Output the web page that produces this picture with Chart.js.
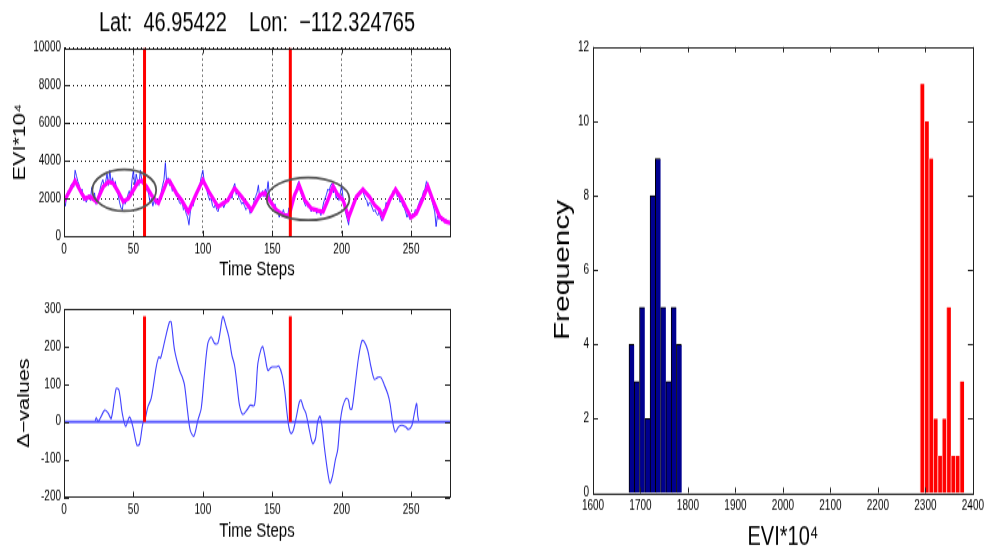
<!DOCTYPE html>
<html>
<head>
<meta charset="utf-8">
<script src="https://cdn.jsdelivr.net/npm/chart.js@4.4.1/dist/chart.umd.min.js"></script>
<style>
  body { margin: 0; background: #fff; width: 988px; height: 553px; position: relative; overflow: hidden; }
  canvas { position: absolute; }
</style>
</head>
<body>
<!-- canvases are rendered short and stretched vertically by CSS -->
<canvas id="eviChart" width="514" height="215" style="left:0;top:0;width:514px;height:290px"></canvas>
<canvas id="deltaChart" width="514" height="195" style="left:0;top:290px;width:514px;height:263px"></canvas>
<canvas id="histChart" width="468" height="410" style="left:520px;top:0;width:468px;height:553px"></canvas>
<script>
// raw EVI*10^4 per time step (t = 0..278)
const evi = [
  1800, 1600, 2200, 2400, 2300, 2700, 2800, 2600, 3500, 3200,
  2900, 2700, 2300, 2500, 1900, 2100, 1800, 2000, 2200, 1900,
  2600, 2000, 2300, 1700, 1900, 2200, 2500, 2800, 3000, 2600,
  2900, 3300, 2700, 3500, 2800, 3100, 2600, 2900, 2400, 2200,
  1800, 1500, 1400, 2000, 1700, 1900, 2200, 2400, 2100, 3000,
  3500, 2600, 3300, 2900, 2700, 3500, 3000, 2800, 3200, 2400,
  2600, 2200, 1800, 2000, 1600, 1900, 1700, 2000, 1800, 1900,
  2300, 2700, 3000, 3900, 2800, 3100, 2700, 2900, 2400, 2600,
  2300, 2100, 2200, 1800, 1700, 1900, 1400, 1500, 1200, 1000,
  600, 1300, 1800, 1600, 2000, 2200, 2400, 2600, 2800, 3200,
  3500, 2900, 2700, 2400, 2100, 1900, 2000, 1600, 1500, 1700,
  1400, 1300, 1700, 1600, 1800, 1500, 1700, 1900, 1800, 2100,
  2300, 2000, 2600, 2800, 2200, 2400, 2000, 1900, 1700, 1800,
  1600, 1400, 1500, 1700, 1200, 1300, 1500, 1900, 2100, 2300,
  2700, 2000, 2200, 2400, 2100, 2500, 2300, 2900, 2100, 1900,
  1800, 1500, 1700, 1300, 1400, 1000, 1300, 1200, 1400, 1100,
  1200, 1000, 1500, 1300, 1600, 1900, 2100, 2400, 2700, 2900,
  2500, 2200, 2000, 1800, 1600, 1700, 1500, 1600, 1300, 1500,
  1300, 1500, 1200, 1400, 1300, 1100, 1400, 1800, 2000, 2200,
  2500, 2400, 2700, 2800, 2300, 2600, 2000, 2200, 1900, 2300,
  2700, 2000, 1500, 1200, 900, 600, 1300, 1500, 1700, 1900,
  1900, 2000, 2200, 2400, 2300, 2500, 2200, 2000, 1900, 1600,
  1800, 1700, 1500, 1300, 1400, 1200, 1100, 1300, 1000, 800,
  1400, 1300, 1800, 1600, 1900, 2100, 2000, 2400, 2300, 2500,
  2100, 2200, 1800, 1900, 1600, 1500, 1300, 1000, 1200, 900,
  1000, 1200, 1100, 1400, 1300, 1600, 1800, 2000, 2100, 2400,
  2500, 2900, 2700, 2400, 2100, 1900, 1600, 1300, 500, 1100,
  900, 1100, 800, 1000, 700, 900, 800, 700, 600
];

// smoothed curve (time step, value)
const smoothT = [0, 8, 12.7, 15, 18.7, 23.5, 28.3, 32, 35.5, 39,
  42.7, 46.3, 50, 53.5, 56, 59.5, 63, 66.7, 68, 74,
  76, 81, 84.7, 89.5, 95.4, 100, 105, 111, 114.6, 118,
  122, 123, 128, 131.4, 135, 141, 144.6, 148, 153, 158,
  162, 166, 169.3, 173.4, 178, 183, 186.6, 190, 193.8, 197.3,
  201, 205, 210.6, 215.3, 220, 223.7, 227.3, 229.7, 234.5, 238.8,
  243, 246.5, 250, 253.7, 258.5, 262, 265.7, 270.5, 275.3, 278];
const smoothV = [1850, 2940, 2270, 2000, 2090, 1830, 2620, 2890, 2800, 2360,
  1830, 2000, 2450, 2890, 2940, 2620, 2180, 1830, 1760, 2890,
  2940, 2270, 1910, 1290, 2270, 2980, 2270, 1560, 1740, 1910,
  2450, 2530, 2090, 1740, 1380, 2180, 2300, 1910, 1380, 1120,
  1060, 2180, 2710, 1910, 1470, 1350, 1300, 1910, 2660, 2180,
  1910, 1000, 2090, 2480, 2090, 1650, 1380, 1030, 1910, 2480,
  2000, 1470, 990, 1200, 2000, 2660, 1910, 1030, 760, 700];

// detected change points
const breakT = [58, 163];
const deltaBreakTop = 281;

// delta statistic (time step, value)
const deltaT = [22.5, 23.3, 24.5, 26, 29.3, 31.7, 34, 37.6, 39.6, 42,
  44.4, 47.2, 49.6, 52.5, 54.4, 56.8, 58.5, 60.4, 62.8, 66.4,
  68.3, 69.5, 72.4, 76, 77.2, 79.6, 83.2, 85.1, 86.8, 89.2,
  90.9, 93.5, 96.4, 98.8, 101.2, 103.6, 106, 108.4, 110.8, 112.5,
  114.4, 116.8, 118.7, 120.9, 122.8, 124.5, 126.4, 128.8, 132.4, 134,
  137.2, 139.6, 142, 143.2, 144.8, 146.8, 148.4, 149.9, 152.8, 154.7,
  157.1, 159.2, 160.4, 161.9, 163.5, 165.2, 167.6, 169.5, 170.7, 172.4,
  174.3, 176.7, 179.1, 181.1, 182.7, 184.4, 185.9, 187.5, 189.9, 191.6,
  193.5, 195.4, 197.1, 198.8, 200.7, 203.1, 204.8, 206, 207.4, 209.8,
  212.2, 214.6, 216.3, 218.7, 221.1, 223.5, 225.9, 228.3, 230.7, 233.1,
  234.8, 236.7, 238.6, 241, 243.4, 245.8, 248.2, 250.6, 252.3, 254,
  254.7, 255.4];
const deltaV = [3, 11, 1, 9, 31, 24, 9, 89, 84, 22,
  -12, 13, -13, -62, -59, -4, 9, 40, 62, 146,
  173, 169, 213, 266, 266, 191, 137, 120, 98, 22,
  -22, -38, 4, 35, 129, 209, 226, 209, 209, 240,
  280, 253, 226, 177, 151, 102, 44, 20, 35, 44,
  44, 155, 195, 200, 173, 137, 142, 146, 146, 148,
  124, 75, 31, -13, -31, -22, 18, 53, 58, 38,
  22, -22, -58, -45, 0, 15, -13, -67, -133, -163,
  -142, -102, -75, -4, 40, 62, 58, 35, 35, 102,
  173, 216, 213, 191, 146, 113, 118, 118, 98, 75,
  49, 0, -27, -13, -9, -13, -20, -9, 22, 49,
  18, 3];

// histogram bins (centers) and counts
const lowBins = [1681.3, 1692.4, 1703.5, 1714.6, 1725.7, 1736.8, 1747.9, 1759.0, 1770.1, 1781.2];
const lowCounts = [4, 3, 5, 2, 8, 9, 5, 3, 5, 4];
const highBins = [2293.2, 2302.5, 2311.8, 2321.1, 2330.4, 2339.7, 2349.0, 2358.3, 2367.6, 2376.9];
const highCounts = [11, 10, 9, 2, 1, 2, 5, 1, 1, 3];

// regions circled on the EVI plot
const circled = [
  { t: 43.4, v: 2435, dt: 23, dv: 1105 },
  { t: 175.8, v: 1980, dt: 29.8, dv: 1130 }
];

const FONT = "'Liberation Sans', Arial, Helvetica, sans-serif";

Chart.defaults.color = '#000';
Chart.defaults.font.family = FONT;
Chart.defaults.animation = false;
Chart.defaults.devicePixelRatio = 1;

// box around the plot with inward ticks on every side
const boxPlugin = {
  id: 'matlabBox',
  afterDatasetsDraw(chart) {
    const { ctx, chartArea: a } = chart;
    const xs = chart.scales.x, ys = chart.scales.y;
    ctx.save();
    ctx.strokeStyle = '#222';
    ctx.lineWidth = 1;
    ctx.beginPath();
    xs.ticks.forEach(t => {
      const px = Math.round(xs.getPixelForValue(t.value)) + 0.5;
      ctx.moveTo(px, a.bottom); ctx.lineTo(px, a.bottom - 4);
      ctx.moveTo(px, a.top); ctx.lineTo(px, a.top + 4);
    });
    ys.ticks.forEach(t => {
      const py = Math.round(ys.getPixelForValue(t.value)) + 0.5;
      ctx.moveTo(a.left, py); ctx.lineTo(a.left + 5, py);
      ctx.moveTo(a.right, py); ctx.lineTo(a.right - 5, py);
    });
    ctx.stroke();
    ctx.strokeRect(Math.round(a.left) + 0.5, Math.round(a.top) + 0.5,
      Math.round(a.right - a.left), Math.round(a.bottom - a.top));
    ctx.restore();
  }
};

const ellipsePlugin = {
  id: 'ellipses',
  afterDatasetsDraw(chart) {
    const { ctx } = chart;
    const xs = chart.scales.x, ys = chart.scales.y;
    ctx.save();
    ctx.strokeStyle = '#555';
    ctx.lineWidth = 1.8;
    circled.forEach(e => {
      const cx = xs.getPixelForValue(e.t), cy = ys.getPixelForValue(e.v);
      const rx = Math.abs(xs.getPixelForValue(e.t + e.dt) - cx);
      const ry = Math.abs(ys.getPixelForValue(e.v + e.dv) - cy);
      ctx.beginPath();
      ctx.ellipse(cx, cy, rx, ry, 0, 0, Math.PI * 2);
      ctx.stroke();
    });
    ctx.restore();
  }
};

const tickFont = { size: 10 };
const plain = v => String(v);
const noGrid = { display: false, drawTicks: false };

const breakLine = (t, y0, y1) => ({
  data: [{ x: t, y: y0 }, { x: t, y: y1 }],
  borderColor: '#ff0000', borderWidth: 3, pointRadius: 0, order: 0
});

// top: EVI series with smoothed curve
new Chart(document.getElementById('eviChart'), {
  type: 'line',
  data: {
    datasets: [
      ...breakT.map(t => breakLine(t, 0, 10000)),
      {
        data: smoothT.map((t, i) => ({ x: t, y: smoothV[i] })),
        borderColor: '#ff00ff', borderWidth: 3.3, pointRadius: 0, order: 1
      },
      {
        data: evi.map((v, i) => ({ x: i, y: v })),
        borderColor: 'rgba(20,20,255,0.85)', borderWidth: 1, pointRadius: 0, order: 2
      }
    ]
  },
  options: {
    responsive: false,
    layout: { padding: 0 },
    plugins: {
      legend: { display: false },
      tooltip: { enabled: false },
      title: {
        display: true,
        text: 'Lat:  46.95422    Lon:  \u2212112.324765',
        font: { size: 20, weight: 'normal' },
        color: '#000',
        padding: { top: 5, bottom: 6.6 }
      }
    },
    scales: {
      x: {
        type: 'linear', min: 0, max: 278,
        ticks: { stepSize: 50, includeBounds: false, font: tickFont, padding: 4, maxRotation: 0, callback: plain },
        grid: { color: '#000', drawTicks: false },
        border: { dash: [1, 3], color: '#222' },
        title: { display: true, text: 'Time Steps', font: { size: 15 }, padding: { top: 0, bottom: 6.6 } },
        afterFit: s => { s.height = 40; }
      },
      y: {
        min: 0, max: 10000,
        ticks: { stepSize: 2000, font: tickFont, padding: 3, callback: plain },
        grid: { color: '#000', drawTicks: false },
        border: { dash: [1, 3], color: '#222' },
        title: { display: true, text: 'EVI*10\u2074', font: { size: 16 }, padding: { top: 11.4, bottom: 0 } },
        afterFit: s => { s.width = 64; }
      },
      // empty right-hand axis keeps the plot and title centred
      yRight: {
        position: 'right',
        ticks: { display: false },
        grid: noGrid,
        border: { display: false },
        afterFit: s => { s.width = 64; }
      }
    }
  },
  plugins: [boxPlugin, ellipsePlugin]
});

// bottom: delta statistic
new Chart(document.getElementById('deltaChart'), {
  type: 'line',
  data: {
    datasets: [
      ...breakT.map(t => breakLine(t, 0, deltaBreakTop)),
      {
        data: [{ x: 0, y: 0 }, { x: 278, y: 0 }],
        borderColor: 'rgba(70,70,255,0.85)', borderWidth: 1.8, pointRadius: 0, order: 1
      },
      {
        data: deltaT.map((t, i) => ({ x: t, y: deltaV[i] })),
        borderColor: 'rgba(30,30,255,0.85)', borderWidth: 1.1, pointRadius: 0, tension: 0.3, order: 2
      }
    ]
  },
  options: {
    responsive: false,
    layout: { padding: { left: 0, right: 64, top: 14.1, bottom: 0 } },
    plugins: { legend: { display: false }, tooltip: { enabled: false } },
    scales: {
      x: {
        type: 'linear', min: 0, max: 278,
        ticks: { stepSize: 50, includeBounds: false, font: tickFont, padding: 4, maxRotation: 0, callback: plain },
        grid: noGrid,
        title: { display: true, text: 'Time Steps', font: { size: 15 }, padding: { top: 0, bottom: 7.5 } },
        afterFit: s => { s.height = 41.5; }
      },
      y: {
        min: -200, max: 300,
        ticks: { stepSize: 100, font: tickFont, padding: 3, callback: plain },
        grid: noGrid,
        title: { display: true, text: '\u0394\u2212values', font: { size: 16 }, padding: { top: 15.4, bottom: 0 } },
        afterFit: s => { s.width = 64; }
      }
    }
  },
  plugins: [boxPlugin]
});

// right: histogram of the two segments
new Chart(document.getElementById('histChart'), {
  type: 'bar',
  data: {
    datasets: [
      {
        data: lowBins.map((b, i) => ({ x: b, y: lowCounts[i] })),
        xAxisID: 'x',
        backgroundColor: '#00008f',
        borderColor: '#000',
        borderWidth: { left: 1, right: 0, top: 1, bottom: 0 },
        barPercentage: 1, categoryPercentage: 1, grouped: false
      },
      {
        data: highBins.map((b, i) => ({ x: b, y: highCounts[i] })),
        xAxisID: 'xHigh',
        backgroundColor: '#ff0000',
        borderColor: '#ffb4b4',
        borderWidth: { left: 1, right: 0, top: 0, bottom: 0 },
        barPercentage: 1, categoryPercentage: 1, grouped: false
      }
    ]
  },
  options: {
    responsive: false,
    layout: { padding: { left: 0, right: 9, top: 34.8, bottom: 0 } },
    plugins: { legend: { display: false }, tooltip: { enabled: false } },
    scales: {
      x: {
        type: 'linear', min: 1600, max: 2400, offset: false,
        ticks: { stepSize: 100, font: tickFont, padding: 4, maxRotation: 0, callback: plain },
        grid: { display: false, drawTicks: false, offset: false },
        title: { display: true, text: 'EVI*10\u2074', font: { size: 20 }, padding: { top: 0, bottom: 0 } },
        afterFit: s => { s.height = 44.5; }
      },
      // second index axis so each histogram gets its own bin width
      xHigh: {
        type: 'linear', min: 1600, max: 2400, offset: false, display: false,
        ticks: { stepSize: 100 },
        grid: { offset: false }
      },
      y: {
        min: 0, max: 12,
        ticks: { stepSize: 2, font: tickFont, padding: 4, callback: plain },
        grid: noGrid,
        title: { display: true, text: 'Frequency', font: { size: 22 }, padding: { top: 29.5, bottom: 0 } },
        afterFit: s => { s.width = 73; }
      }
    }
  },
  plugins: [boxPlugin]
});
</script>
</body>
</html>
